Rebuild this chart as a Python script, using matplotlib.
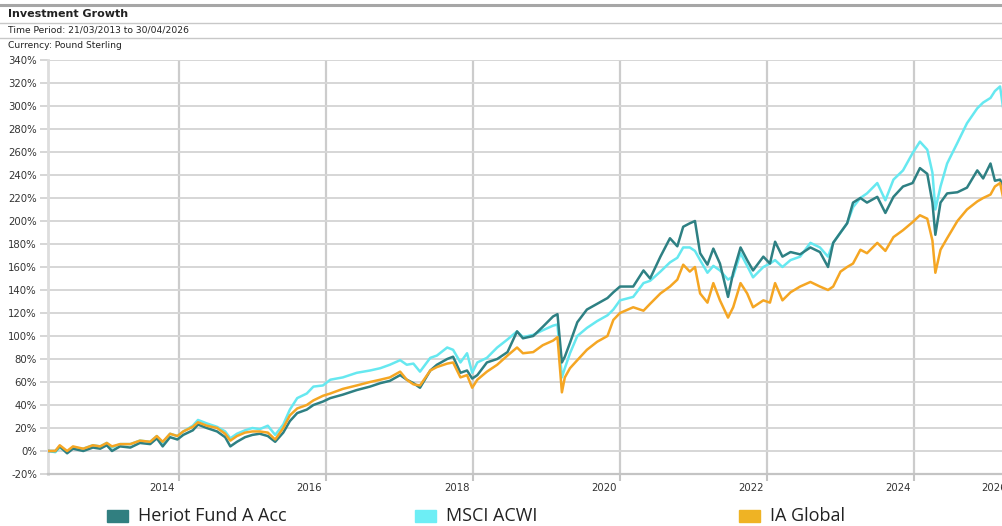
import matplotlib
matplotlib.use("Agg")
import matplotlib.pyplot as plt
from matplotlib.patches import Rectangle
from matplotlib.transforms import blended_transform_factory

# decimal years of the sampled points
years = [2013.22, 2013.32, 2013.38, 2013.48, 2013.56, 2013.70, 2013.83, 2013.93, 2014.02, 2014.09,
         2014.20, 2014.34, 2014.47, 2014.61, 2014.70, 2014.78, 2014.88, 2014.98, 2015.06, 2015.19,
         2015.26, 2015.38, 2015.52, 2015.63, 2015.70, 2015.79, 2015.90, 2016.00, 2016.10, 2016.21,
         2016.31, 2016.42, 2016.51, 2016.61, 2016.74, 2016.83, 2016.96, 2017.06, 2017.23, 2017.42,
         2017.60, 2017.74, 2017.87, 2018.01, 2018.10, 2018.19, 2018.28, 2018.42, 2018.51, 2018.65,
         2018.73, 2018.83, 2018.92, 2018.99, 2019.06, 2019.19, 2019.33, 2019.47, 2019.60, 2019.68,
         2019.82, 2019.95, 2020.09, 2020.15, 2020.21, 2020.25, 2020.32, 2020.42, 2020.55, 2020.69,
         2020.83, 2020.91, 2021.00, 2021.18, 2021.32, 2021.41, 2021.55, 2021.68, 2021.78, 2021.86,
         2021.95, 2022.02, 2022.09, 2022.19, 2022.27, 2022.36, 2022.47, 2022.54, 2022.64, 2022.73,
         2022.81, 2022.95, 2023.04, 2023.11, 2023.21, 2023.32, 2023.45, 2023.59, 2023.72, 2023.83,
         2023.90, 2024.00, 2024.09, 2024.17, 2024.27, 2024.36, 2024.50, 2024.61, 2024.72, 2024.85,
         2024.98, 2025.08, 2025.18, 2025.25, 2025.29, 2025.36, 2025.45, 2025.59, 2025.72, 2025.86,
         2025.94, 2026.04, 2026.10, 2026.17, 2026.21]

heriot = [0, 0, 4, -2, 2, 0, 3, 2, 5, 0,
          4, 3, 7, 6, 11, 4, 12, 10, 14, 18,
          23, 20, 17, 12, 4, 8, 12, 14, 15, 13,
          8, 16, 26, 33, 36, 40, 43, 46, 49, 53,
          56, 59, 61, 66, 62, 59, 55, 70, 75, 80,
          82, 68, 70, 63, 66, 77, 80, 86, 104, 98,
          100, 108, 117, 119, 77, 82, 94, 112, 123, 128,
          133, 138, 143, 143, 157, 150, 169, 185, 178, 195,
          198, 200, 172, 162, 176, 163, 134, 155, 177, 166,
          157, 169, 163, 182, 169, 173, 171, 177, 173, 160,
          181, 190, 198, 216, 220, 216, 221, 207, 221, 230,
          233, 246, 241, 216, 188, 216, 224, 225, 229, 244,
          237, 250, 235, 236, 230]

msci = [0, -1, 3, -1, 3, 2, 5, 4, 7, 3,
        6, 6, 9, 8, 13, 7, 15, 13, 17, 22,
        27, 24, 21, 17, 11, 15, 18, 20, 19, 22,
        14, 23, 36, 46, 50, 56, 57, 62, 64, 68,
        70, 72, 75, 79, 75, 76, 69, 81, 83, 90,
        88, 77, 85, 68, 77, 81, 90, 97, 104, 99,
        101, 105, 109, 110, 64, 72, 85, 100, 107, 113,
        118, 123, 131, 134, 146, 148, 156, 164, 168, 177,
        177, 174, 166, 155, 161, 157, 149, 152, 172, 161,
        151, 160, 163, 166, 160, 166, 169, 181, 177, 169,
        181, 190, 198, 212, 220, 224, 233, 218, 236, 244,
        259, 269, 262, 242, 210, 230, 250, 268, 285, 298,
        303, 307, 313, 317, 299]

ia_global = [0, 0, 5, 0, 4, 2, 5, 4, 7, 4,
             6, 6, 9, 8, 13, 8, 15, 13, 17, 21,
             25, 22, 20, 15, 9, 13, 16, 17, 17, 16,
             10, 20, 31, 37, 40, 44, 48, 50, 54, 57,
             60, 62, 64, 69, 62, 58, 57, 70, 73, 76,
             77, 64, 66, 55, 62, 69, 75, 83, 90, 85,
             86, 92, 96, 99, 51, 64, 72, 79, 88, 95,
             100, 114, 120, 125, 122, 128, 137, 143, 149, 162,
             156, 160, 137, 129, 146, 131, 116, 125, 146, 137,
             125, 131, 129, 146, 131, 138, 143, 147, 143, 140,
             143, 156, 160, 163, 175, 172, 181, 174, 186, 192,
             199, 205, 202, 183, 155, 175, 185, 200, 210, 217,
             220, 223, 230, 233, 221]

y_ticks = list(range(-20, 341, 20))
grid_years = [2015, 2017, 2019, 2021, 2023, 2025]
grid_labels = ["2014", "2016", "2018", "2020", "2022", "2024"]

names = ["Heriot Fund A Acc", "MSCI ACWI", "IA Global"]
line_colors = ["#2E8083", "#66E8F0", "#F5A623"]
swatch_colors = ["#317F80", "#6DEEF5", "#EFB324"]

W, H = 1003, 526
fig = plt.figure(figsize=(W / 100, H / 100), dpi=100)

# header block
fig.add_artist(plt.Line2D([0, 1], [1 - 5 / H, 1 - 5 / H], color="#a6a6a6", lw=2.2))
fig.add_artist(plt.Line2D([0, 1], [1 - 22.5 / H, 1 - 22.5 / H], color="#c8c8c8", lw=1))
fig.add_artist(plt.Line2D([0, 1], [1 - 37.5 / H, 1 - 37.5 / H], color="#c8c8c8", lw=1))
fig.text(8 / W, 1 - 14 / H, "Investment Growth", fontsize=8, fontweight="bold",
         color="#222222", va="center")
fig.text(8 / W, 1 - 30 / H, "Time Period: 21/03/2013 to 30/04/2026", fontsize=6.6,
         color="#222222", va="center")
fig.text(8 / W, 1 - 45 / H, "Currency: Pound Sterling", fontsize=6.6,
         color="#222222", va="center")

ax = fig.add_axes([48 / W, (H - 474) / H, 955 / W, 414 / H])
ax.set_xlim(2013.22, 2026.21)
ax.set_ylim(-20, 340)

ax.plot(years, msci, color=line_colors[1], lw=1.8, zorder=3)
ax.plot(years, heriot, color=line_colors[0], lw=1.8, zorder=4)
ax.plot(years, ia_global, color=line_colors[2], lw=1.8, zorder=5)

ax.set_yticks(y_ticks)
ax.set_yticklabels([f"{v}%" for v in y_ticks])
ax.set_xticks(grid_years)
ax.set_xticklabels([])
ax.tick_params(axis="y", length=6, width=1.2, color="#d0d0d0", labelsize=7.3,
               labelcolor="#333333", pad=2)
ax.tick_params(axis="x", length=5, width=1.5, color="#c4c4c4")
ax.grid(True, axis="y", color="#d6d6d6", lw=1.4, zorder=1)
ax.grid(True, axis="x", color="#cccccc", lw=1.6, zorder=1)
ax.set_axisbelow(True)
for side in ["top", "right"]:
    ax.spines[side].set_visible(False)
ax.spines["left"].set_color("#dddddd")
ax.spines["left"].set_linewidth(2)
ax.spines["bottom"].set_color("#c4c4c4")
ax.spines["bottom"].set_linewidth(1.6)

trans = blended_transform_factory(ax.transData, ax.transAxes)
for gx, lab in zip(grid_years, grid_labels):
    ax.text(gx - 0.05, -0.022, lab, transform=trans, ha="right", va="top",
            fontsize=7.3, color="#333333")
ax.text(2025.91, -0.022, "2026", transform=trans, ha="left", va="top",
        fontsize=7.3, color="#333333", clip_on=False)

# legend row
legend_x = [107, 415, 739]
for lx, name, col in zip(legend_x, names, swatch_colors):
    fig.add_artist(Rectangle((lx / W, (H - 522) / H), 21 / W, 12 / H,
                             transform=fig.transFigure, color=col))
    fig.text((lx + 31) / W, (H - 516) / H, name, fontsize=13, family="Open Sans",
             color="#222222", va="center")

fig.savefig("out.png", dpi=100)
